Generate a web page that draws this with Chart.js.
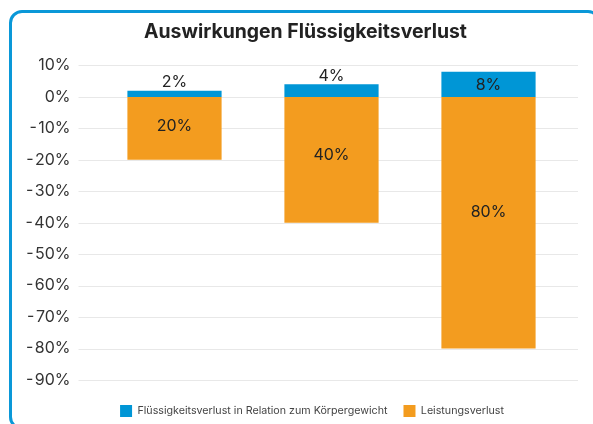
<!DOCTYPE html>
<html>
<head>
<meta charset="utf-8">
<script src="https://cdn.jsdelivr.net/npm/chart.js@4"></script>
<style>
  html, body { margin: 0; padding: 0; background: #fff; overflow: hidden; }
  .card {
    position: absolute; left: 9px; top: 10px; width: 592px; height: 420px;
    border: 3px solid #0a98d8; border-radius: 13px; box-sizing: border-box;
  }
  #wrap { position: absolute; left: 0; top: 0; width: 593px; height: 424px; }
</style>
</head>
<body>
<div class="card"></div>
<div id="wrap"><canvas id="myChart" width="593" height="424"></canvas></div>
<script>
const categories = ['2%', '4%', '8%'];
const fluidLoss = [2, 4, 8];
const performanceLoss = [-20, -40, -80];
const seriesNames = ['Flüssigkeitsverlust in Relation zum Körpergewicht', 'Leistungsverlust'];
const yTicks = { min: -90, max: 10, step: 10 };

const blue = '#0096d6';
const orange = '#f39c1f';
const fontName = 'Inter, "Noto Sans", sans-serif';

// grid lines run a bit past the plot on both sides
const gridExt = {
  id: 'gridExt',
  afterLayout(chart) {
    // legend sits a little right of the title in the original
    chart.legend.left += 6.5;
    chart.legend.right += 6.5;
  },
  beforeDatasetsDraw(chart) {
    const c = chart.ctx, a = chart.chartArea, y = chart.scales.y;
    c.save();
    c.strokeStyle = '#e8e8e8';
    c.lineWidth = 1;
    y.ticks.forEach((t) => {
      const py = Math.round(y.getPixelForValue(t.value)) + 0.5;
      c.beginPath();
      c.moveTo(a.left - 17.5, py);
      c.lineTo(a.right + 11, py);
      c.stroke();
    });
    c.restore();
  }
};

// value labels on the bars
const barLabels = {
  id: 'barLabels',
  afterDatasetsDraw(chart) {
    const c = chart.ctx;
    c.save();
    c.font = '16px ' + fontName;
    c.fillStyle = '#222';
    c.textAlign = 'center';
    c.textBaseline = 'middle';
    chart.data.datasets.forEach((ds, i) => {
      chart.getDatasetMeta(i).data.forEach((bar, j) => {
        const v = ds.data[j];
        const top = Math.min(bar.y, bar.base);
        const h = Math.abs(bar.base - bar.y);
        const txt = Math.abs(v) + '%';
        let ty;
        if (h < 20) ty = top - 8;
        else if (v > 0) ty = top + h / 2 + 1;
        else ty = top + h * 0.46;
        c.fillText(txt, bar.x, ty);
      });
    });
    c.restore();
  }
};

const ctx = document.getElementById('myChart');

new Chart(ctx, {
  type: 'bar',
  data: {
    labels: categories,
    datasets: [{
      label: seriesNames[0],
      data: fluidLoss,
      backgroundColor: blue,
      borderWidth: 0
    }, {
      label: seriesNames[1],
      data: performanceLoss,
      backgroundColor: orange,
      borderWidth: 0
    }]
  },
  options: {
    responsive: false,
    animation: false,
    events: [],
    categoryPercentage: 1,
    barPercentage: 0.6,
    layout: { padding: { left: 44, right: 26, top: 10.5, bottom: -3 } },
    scales: {
      x: {
        stacked: true,
        border: { display: false },
        grid: { display: false },
        ticks: { display: false },
        afterFit: (s) => { s.height = 9; }
      },
      y: {
        stacked: true,
        min: yTicks.min,
        max: yTicks.max,
        border: { display: false },
        grid: { display: false, drawTicks: false },
        afterFit: (s) => {
          s.width = 52;
          // labels are wider than the narrow axis box, don't clip them
          s._computeLabelArea = () => undefined;
        },
        ticks: {
          stepSize: yTicks.step,
          padding: 25.5,
          color: '#333',
          font: { family: fontName, size: 16 },
          callback: (v) => (v < 0 ? '-\u200A' + Math.abs(v) : v) + '%'
        }
      }
    },
    plugins: {
      title: {
        display: true,
        text: 'Auswirkungen Flüssigkeitsverlust',
        color: '#222',
        font: { family: fontName, size: 19.4, weight: 'bold' },
        padding: { top: 10.4, bottom: 21.3 }
      },
      legend: {
        position: 'bottom',
        labels: {
          boxWidth: 12,
          boxHeight: 12,
          padding: 16,
          color: '#444',
          font: { family: fontName, size: 10.7 }
        }
      },
      tooltip: { enabled: false }
    }
  },
  plugins: [gridExt, barLabels]
});
</script>
</body>
</html>
